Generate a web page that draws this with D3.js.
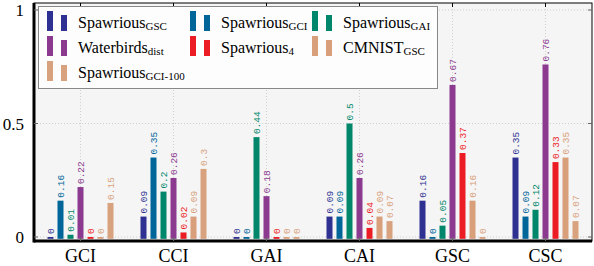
<!DOCTYPE html>
<html>
<head>
<meta charset="utf-8">
<script src="https://cdn.jsdelivr.net/npm/d3@7"></script>
<style>
  body { margin: 0; background: #fff; }
  svg { display: block; }
</style>
</head>
<body>
<div id="chart"></div>
<script>
// categories on the x axis
const categories = ["GCI", "CCI", "GAI", "CAI", "GSC", "CSC"];

// series, in bar order within each group
const seriesNames = ["SpawriousGSC", "SpawriousGCI", "SpawriousGAI", "Waterbirds", "Spawrious4", "CMNIST", "SpawriousGCI100"];

const spawriousGSC    = [0,    0.09, 0,    0.09, 0.16, 0.35];
const spawriousGCI    = [0.16, 0.35, 0,    0.09, 0,    0.09];
const spawriousGAI    = [0.01, 0.2,  0.44, 0.5,  0.05, 0.12];
const waterbirdsDist  = [0.22, 0.26, 0.18, 0.26, 0.67, 0.76];
const spawrious4      = [0,    0.02, 0,    0.04, 0.37, 0.33];
const cmnistGSC       = [0,    0.09, 0,    0.09, 0.16, 0.35];
const spawriousGCI100 = [0.15, 0.3,  0,    0.07, 0,    0.07];

const yTicks = [0, 0.5, 1];
const yTickLabels = ["0", "0.5", "1"];

const seriesValues = [spawriousGSC, spawriousGCI, spawriousGAI, waterbirdsDist, spawrious4, cmnistGSC, spawriousGCI100];
const colors = ["#2e3192", "#00669a", "#00876b", "#8b3a8f", "#ec1c24", "#d89f7a", "#d9a27e"];

// legend: main text + subscript, in legend order (row by row)
const legendItems = [
    {s: 0, main: "Spawrious", sub: "GSC"},
    {s: 1, main: "Spawrious", sub: "GCI"},
    {s: 2, main: "Spawrious", sub: "GAI"},
    {s: 3, main: "Waterbirds", sub: "dist"},
    {s: 4, main: "Spawrious", sub: "4"},
    {s: 5, main: "CMNIST", sub: "GSC"},
    {s: 6, main: "Spawrious", sub: "GCI-100"}
];

const SERIF = "'Liberation Serif', 'Times New Roman', 'DejaVu Serif', serif";
const MONO = "'Liberation Mono', 'DejaVu Sans Mono', monospace";

const W = 594, H = 266;
const frame = {left: 34, right: 592, top: 3, bottom: 241};

const svg = d3.select("#chart").append("svg")
    .attr("width", W)
    .attr("height", H);

// background of plot area
svg.append("rect")
    .attr("x", frame.left).attr("y", frame.top)
    .attr("width", frame.right - frame.left)
    .attr("height", frame.bottom - frame.top)
    .attr("fill", "#f5f5f5");

// scales
const x = d3.scalePoint()
    .domain(categories)
    .range([frame.left, frame.right])
    .padding(0.5);

const xInner = d3.scaleBand()
    .domain(d3.range(seriesNames.length))
    .range([-33, 33])
    .paddingInner(0.4);

const y = d3.scaleLinear()
    .domain([0, 1])
    .range([237, 10]);

// grid
const grid = svg.append("g").attr("stroke", "#cfcfcf").attr("stroke-dasharray", "1,2").attr("stroke-width", 1);
categories.forEach(c => {
    grid.append("line")
        .attr("x1", x(c)).attr("x2", x(c))
        .attr("y1", frame.top).attr("y2", frame.bottom);
});
yTicks.forEach(t => {
    grid.append("line")
        .attr("x1", frame.left).attr("x2", frame.right)
        .attr("y1", y(t)).attr("y2", y(t));
});

// bars
const data = [];
categories.forEach((c, i) => {
    seriesValues.forEach((vals, s) => {
        data.push({cat: c, s: s, v: vals[i]});
    });
});

svg.append("g").selectAll("rect")
    .data(data)
    .join("rect")
    .attr("x", d => x(d.cat) + xInner(d.s))
    .attr("width", xInner.bandwidth())
    .attr("y", d => y(d.v))
    .attr("height", d => y(-0.008) - y(d.v))
    .attr("fill", d => colors[d.s]);

// value labels
svg.append("g").selectAll("text")
    .data(data)
    .join("text")
    .attr("font-family", MONO)
    .attr("font-size", 9.5)
    .attr("transform", d => "translate(" + (x(d.cat) + xInner(d.s) + xInner.bandwidth() / 2 + 0.5) + "," + (y(d.v) - 3) + ") rotate(-90)")
    .attr("dominant-baseline", "central")
    .attr("fill", d => colors[d.s])
    .text(d => String(d.v));

// frame
svg.append("rect")
    .attr("x", frame.left).attr("y", frame.top)
    .attr("width", frame.right - frame.left)
    .attr("height", frame.bottom - frame.top)
    .attr("fill", "none")
    .attr("stroke", "#000")
    .attr("stroke-width", 1);
svg.append("line")
    .attr("x1", frame.left).attr("x2", frame.left)
    .attr("y1", frame.top).attr("y2", frame.bottom + 1.5)
    .attr("stroke", "#000").attr("stroke-width", 3);
svg.append("line")
    .attr("x1", frame.left).attr("x2", frame.right)
    .attr("y1", frame.bottom).attr("y2", frame.bottom)
    .attr("stroke", "#000").attr("stroke-width", 3);

// tick marks
const ticks = svg.append("g").attr("stroke", "#666").attr("stroke-width", 1);
categories.forEach(c => {
    ticks.append("line").attr("x1", x(c)).attr("x2", x(c)).attr("y1", frame.bottom - 4).attr("y2", frame.bottom);
    ticks.append("line").attr("x1", x(c)).attr("x2", x(c)).attr("y1", frame.top).attr("y2", frame.top + 4).attr("stroke", "#000");
});
yTicks.forEach(t => {
    ticks.append("line").attr("x1", frame.left).attr("x2", frame.left + 4).attr("y1", y(t)).attr("y2", y(t));
    ticks.append("line").attr("x1", frame.right - 4).attr("x2", frame.right).attr("y1", y(t)).attr("y2", y(t));
});

// axis labels
svg.append("g").selectAll("text")
    .data(categories)
    .join("text")
    .attr("font-family", SERIF)
    .attr("font-size", 18)
    .attr("x", d => x(d))
    .attr("y", 262)
    .attr("text-anchor", "middle")
    .text(d => d);

svg.append("g").selectAll("text")
    .data(yTicks)
    .join("text")
    .attr("font-family", SERIF)
    .attr("font-size", 17)
    .attr("x", 24)
    .attr("y", d => y(d) + 6)
    .attr("text-anchor", "end")
    .text((d, i) => yTickLabels[i]);

// legend
const legend = svg.append("g");
legend.append("rect")
    .attr("x", 38.5).attr("y", 6.5)
    .attr("width", 399).attr("height", 82)
    .attr("fill", "#fdfdfd")
    .attr("stroke", "#888");

const colX = [47, 190, 312];
const rowY = [28, 53, 78];
legendItems.forEach((item, i) => {
    const cx = colX[i % 3], by = rowY[Math.floor(i / 3)];
    const g = legend.append("g");
    g.append("rect").attr("x", cx).attr("y", by - 17).attr("width", 6).attr("height", 20).attr("fill", colors[item.s]);
    g.append("rect").attr("x", cx + 14).attr("y", by - 13).attr("width", 6).attr("height", 16).attr("fill", colors[item.s]);
    const t = g.append("text")
        .attr("font-family", SERIF)
        .attr("font-size", 16)
        .attr("x", cx + 31)
        .attr("y", by);
    t.append("tspan").text(item.main);
    t.append("tspan").attr("dy", 2).attr("font-size", 11).text(item.sub);
});
</script>
</body>
</html>
